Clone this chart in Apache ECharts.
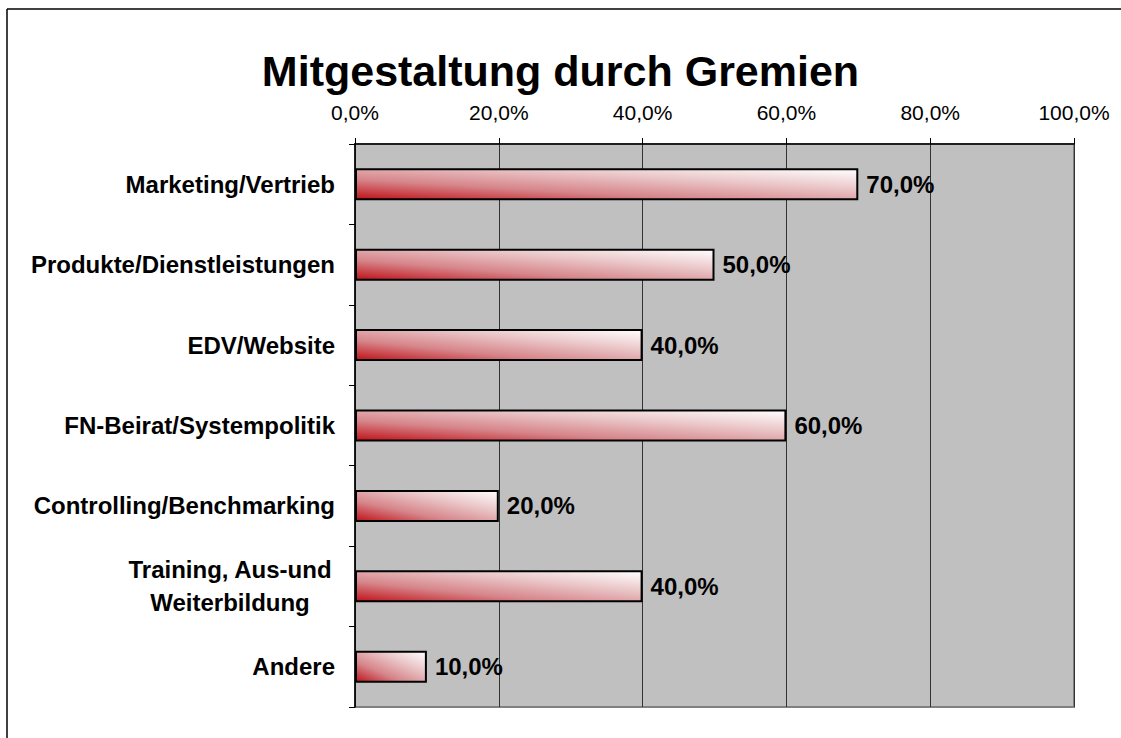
<!DOCTYPE html>
<html>
<head>
<meta charset="utf-8">
<script src="https://cdn.jsdelivr.net/npm/echarts@6/dist/echarts.min.js"></script>
<style>
  html, body { margin: 0; padding: 0; background: #fff; overflow: hidden; }
  #chart { width: 1121px; height: 738px; }
</style>
</head>
<body>
<div id="chart"></div>
<script>
  var categories = [
    'Marketing/Vertrieb',
    'Produkte/Dienstleistungen',
    'EDV/Website',
    'FN-Beirat/Systempolitik',
    'Controlling/Benchmarking',
    'Training, Aus-und\nWeiterbildung',
    'Andere'
  ];
  var shares = [70, 50, 40, 60, 20, 40, 10];
  var axisTicks = [0, 20, 40, 60, 80, 100];

  function pct(v) {
    return v.toFixed(1).replace('.', ',') + '%';
  }

  var chartDom = document.getElementById('chart');
  var myChart = echarts.init(chartDom, null, {
    renderer: 'svg',
    useDirtyRect: false
  });

  var barFill = new echarts.graphic.LinearGradient(0, 1, 1, 0, [
    { offset: 0, color: '#bf1219' },
    { offset: 0.33, color: '#d6858a' },
    { offset: 0.65, color: '#e9c4c6' },
    { offset: 1, color: '#ffffff' }
  ]);

  var option = {
    backgroundColor: '#ffffff',
    animation: false,
    textStyle: { fontFamily: '"Liberation Sans", Arial, sans-serif' },
    title: {
      text: 'Mitgestaltung durch Gremien',
      left: 'center',
      top: 44,
      textStyle: {
        fontSize: 43,
        fontWeight: 'bold',
        color: '#000',
        fontFamily: '"Liberation Sans", Arial, sans-serif'
      }
    },
    // outer frame: only top and left edges are visible in the picture
    graphic: [{
      type: 'line',
      shape: { x1: 7, y1: 9, x2: 1121, y2: 9 },
      style: { stroke: '#000', lineWidth: 1.5 },
      silent: true
    }, {
      type: 'line',
      shape: { x1: 7, y1: 9, x2: 7, y2: 738 },
      style: { stroke: '#000', lineWidth: 1.5 },
      silent: true
    }],
    grid: {
      left: 355,
      right: 47,
      top: 144,
      bottom: 31,
      show: true,
      backgroundColor: '#c0c0c0',
      borderColor: '#808080',
      borderWidth: 2
    },
    xAxis: {
      type: 'value',
      position: 'top',
      min: axisTicks[0],
      max: axisTicks[axisTicks.length - 1],
      interval: 20,
      axisLine: { show: true, lineStyle: { color: '#000', width: 1.5 } },
      axisTick: { show: true, inside: false, length: 6, lineStyle: { color: '#000' } },
      axisLabel: {
        margin: 21,
        fontSize: 21,
        color: '#000',
        formatter: function (v) { return pct(v); }
      },
      splitLine: { show: true, lineStyle: { color: '#333', width: 1 } }
    },
    yAxis: {
      type: 'category',
      inverse: true,
      data: categories,
      axisLine: { show: true, lineStyle: { color: '#000', width: 1.5 } },
      axisTick: { show: true, length: 6, alignWithLabel: false, lineStyle: { color: '#000' } },
      axisLabel: {
        margin: 20,
        fontSize: 24,
        fontWeight: 'bold',
        color: '#000',
        lineHeight: 33,
        formatter: function (v) {
          if (v.indexOf('\n') < 0) return v;
          return v.split('\n').map(function (s) { return '{c|' + s + '}'; }).join('\n');
        },
        rich: {
          c: {
            width: 210,
            align: 'center',
            fontSize: 24,
            fontWeight: 'bold',
            lineHeight: 33,
            color: '#000'
          }
        }
      }
    },
    series: [{
      name: 'Anteil',
      type: 'bar',
      data: shares,
      barWidth: 32,
      itemStyle: {
        color: barFill,
        borderColor: '#000',
        borderWidth: 2
      },
      label: {
        show: true,
        position: 'right',
        distance: 8,
        fontSize: 24,
        fontWeight: 'bold',
        color: '#000',
        formatter: function (p) { return pct(p.value); }
      }
    }]
  };

  if (option && typeof option === 'object') {
    myChart.setOption(option);
  }

  window.addEventListener('resize', myChart.resize);
</script>
</body>
</html>
